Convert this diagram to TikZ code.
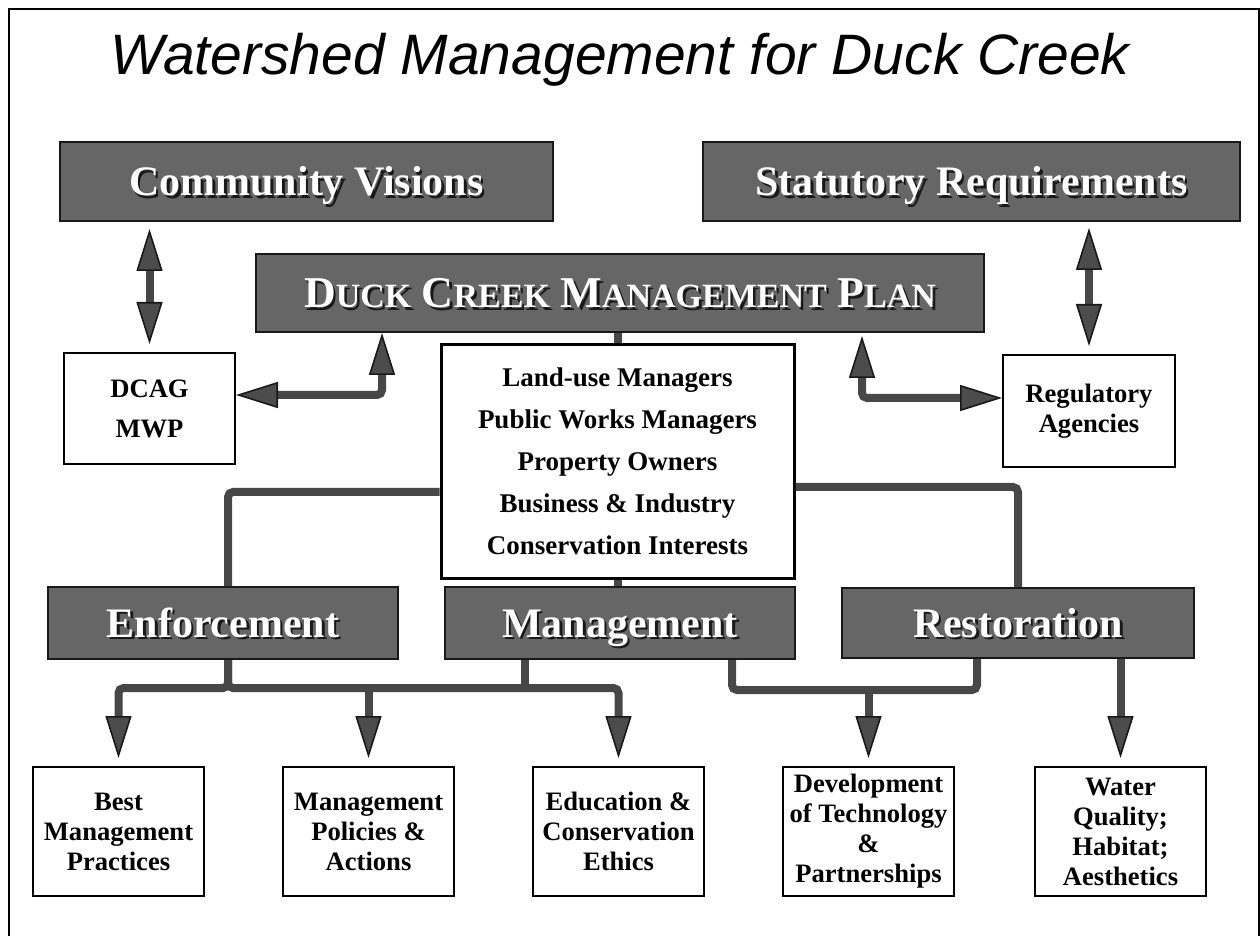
\documentclass[tikz,border=0pt]{standalone}
\usepackage{fontspec}
\setmainfont{Liberation Serif}
\newfontfamily\titlefont{Liberation Sans}
\usetikzlibrary{arrows.meta, positioning}

\newcommand{\bigsc}[2]{{\fontsize{22}{26}\selectfont #1}{\fontsize{17}{20}\selectfont #2}}
\newcommand{\embossed}[1]{\leavevmode\rlap{\kern1.3pt\raisebox{-1.3pt}{\textcolor{black!90}{#1}}}#1}

\begin{document}
\begin{tikzpicture}[
    x=0.5pt, y=-0.5pt,
    >={Triangle[length=21pt, width=13pt, color=black!90, fill=black!70, line width=0.8pt]},
    title/.style={font=\titlefont\itshape\fontsize{28.5}{34}\selectfont},
    banner/.style={rectangle, draw=black!90, line width=1pt, fill=black!60, text=white, inner sep=0pt, align=center, text height=18pt, text depth=4pt, font=\bfseries\fontsize{21}{25}\selectfont},
    party/.style={rectangle, draw=black, line width=1pt, fill=white, inner sep=0pt, align=center, font=\bfseries\fontsize{13.3}{15}\selectfont},
    outcome/.style={party, minimum width=85.5pt, minimum height=64.5pt},
    flow/.style={draw=black!72, line width=4pt, rounded corners=2.5pt}
]
\useasboundingbox (0,0) rectangle (1260,936);

% Frame
\draw[line width=1.2pt] (9,936) -- (9,9) -- (1259,9) -- (1259,936);

% Title
\node[title, anchor=base] (title) at (620,75) {Watershed Management for Duck Creek};

% Top banners
\node[banner, minimum width=246.5pt, minimum height=39.5pt] (cv) at (306.5,181.5) {\embossed{Community Visions}};
\node[banner, minimum width=268.5pt, minimum height=39.5pt] (sr) at (971.5,181.5) {\embossed{Statutory Requirements}};
\node[banner, minimum width=364pt, minimum height=39pt, text height=18.5pt] (dcmp) at (620,293) {\embossed{\bigsc{D}{UCK} \bigsc{C}{REEK} \bigsc{M}{ANAGEMENT} \bigsc{P}{LAN}}};

% Stakeholder boxes
\node[party, line width=1.5pt, minimum width=176.5pt, minimum height=116.5pt, font=\bfseries\fontsize{13.5}{21}\selectfont] (central) at (617.5,461.5) {Land-use Managers\\Public Works Managers\\Property Owners\\Business \& Industry\\Conservation Interests};
\node[party, minimum width=85.5pt, minimum height=55.5pt, font=\bfseries\fontsize{13.3}{20}\selectfont] (dcag) at (149.5,408.5) {DCAG\\MWP};
\node[party, minimum width=86pt, minimum height=56pt] (reg) at (1089,411) {Regulatory\\Agencies};

% Action banners
\node[banner, minimum width=175pt, minimum height=36pt] (enf) at (223,623) {\embossed{Enforcement}};
\node[banner, minimum width=175pt, minimum height=36pt, right=22.5pt of enf] (mgmt) {\embossed{Management}};
\node[banner, minimum width=176pt, minimum height=35pt, right=22.5pt of mgmt] (rest) {\embossed{Restoration}};

% Outcome boxes
\node[outcome] (best) at (118.5,831.5) {Best\\Management\\Practices};
\node[outcome, right=38.5pt of best] (policy) {Management\\Policies \&\\Actions};
\node[outcome, right=38.5pt of policy] (edu) {Education \&\\Conservation\\Ethics};
\node[outcome, right=38.5pt of edu] (dev) {Development\\of Technology\\\&\\Partnerships};
\node[outcome, right=39.5pt of dev] (water) {Water\\Quality;\\Habitat;\\Aesthetics};

% Upper connections
\draw[flow, <->, shorten <=3.5pt, shorten >=4pt] (dcag.north |- cv.south) -- (dcag.north);
\draw[flow, <->, shorten <=3pt, shorten >=4pt] (reg.north |- sr.south) -- (reg.north);
\draw[flow, <->] ([yshift=6.75pt]dcag.east) -| (dcmp.south -| 382,0);
\draw[flow, <->, shorten <=1.5pt] (dcmp.south -| 862,0) |- ([yshift=6.5pt]reg.west);
\draw[flow] (central.north) -- (central.north |- dcmp.south);
\draw[flow] (central.south) -- (central.south |- mgmt.north);
\draw[flow] ([yshift=-15.25pt]central.west) -| ([xshift=2.5pt]enf.north);
\draw[flow] ([yshift=-12.75pt]central.east) -| (rest.north);

% Lower connections
\draw[flow, ->, shorten >=4pt] ([xshift=2.5pt]enf.south) -- ++(0,28) -| (best.north);
\draw[flow, ->, shorten >=4pt] ([xshift=2.5pt]enf.south) -- ++(0,28) -| (edu.north);
\draw[flow, ->, shorten >=4pt] (policy.north |- 0,687) -- (policy.north);
\draw[flow] ([xshift=-47.5pt]mgmt.south) -- ([xshift=-47.5pt]mgmt.south |- 0,687);
\draw[flow] ([xshift=56pt]mgmt.south) -- ++(0,30) -| ([xshift=-20.5pt]rest.south);
\draw[flow, ->, shorten >=4pt] (dev.north |- 0,692) -- (dev.north);
\draw[flow, ->, shorten >=4pt] (water.north |- rest.south) -- (water.north);

\end{tikzpicture}
\end{document}
